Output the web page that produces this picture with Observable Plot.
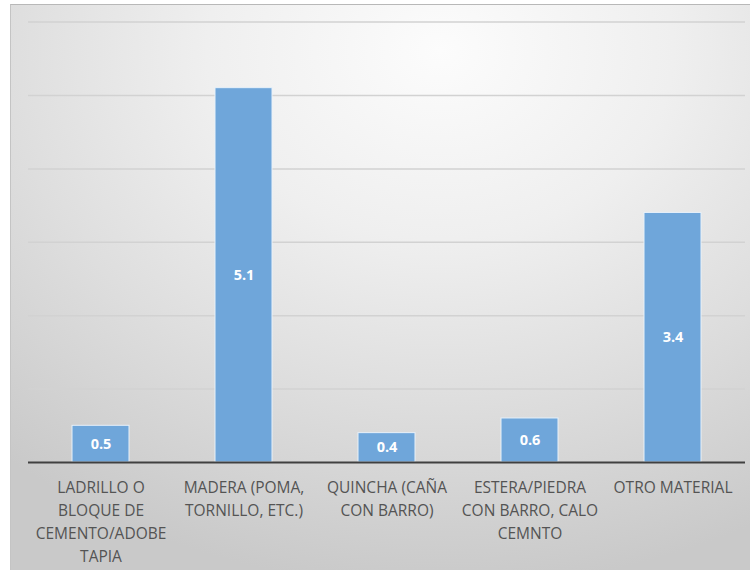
<!DOCTYPE html>
<html>
<head>
<meta charset="utf-8">
<script src="https://cdn.jsdelivr.net/npm/d3@7"></script>
<script src="https://cdn.jsdelivr.net/npm/@observablehq/plot@0.6"></script>
<style>
  html, body { margin: 0; padding: 0; background: #fff; }
  #wrap { position: absolute; left: 10px; top: 4px; width: 740px; height: 566px;
    border-top: 1px solid #b8b8b8; border-left: 1px solid #c4c4c4;
    background: radial-gradient(ellipse 90% 95% at 58% 8%, #fcfcfc 0%, #efefef 35%, #dedede 65%, #c9c9c9 100%);
  }
  #wrap svg { position: absolute; left: -1px; top: -1px; background: transparent; }
</style>
</head>
<body>
<div id="wrap"></div>
<script>
const categories = [
  "LADRILLO O\nBLOQUE DE\nCEMENTO/ADOBE\nTAPIA",
  "MADERA (POMA,\nTORNILLO, ETC.)",
  "QUINCHA (CAÑA\nCON BARRO)",
  "ESTERA/PIEDRA\nCON BARRO, CALO\nCEMNTO",
  "OTRO MATERIAL"
];
const values = [0.5, 5.1, 0.4, 0.6, 3.4];
const valueLabels = ["0.5", "5.1", "0.4", "0.6", "3.4"];
const gridTicks = [1, 2, 3, 4, 5, 6];

const data = categories.map((c, i) => ({cat: c, v: values[i], label: valueLabels[i]}));

const chart = Plot.plot({
  width: 740,
  height: 566,
  marginLeft: 18,
  marginRight: 5,
  marginTop: 17.6,
  marginBottom: 108,
  style: {background: "transparent", fontFamily: "'Open Sans', sans-serif"},
  x: {domain: categories, paddingInner: 0.6, paddingOuter: 0.3, align: 0.5, axis: null},
  y: {domain: [0, 6], axis: null},
  marks: [
    Plot.gridY(gridTicks, {stroke: "#d2d2d2", strokeOpacity: 1, strokeWidth: 1.5}),
    Plot.barY(data, {x: "cat", y: "v", fill: "#6fa6da", stroke: "#e8f1fa", strokeWidth: 1}),
    Plot.text(data, {x: "cat", y: d => d.v / 2, text: "label", fill: "white", fontWeight: "bold", fontSize: 14.5}),
    Plot.ruleY([0], {stroke: "#404040", strokeWidth: 2}),
    Plot.axisX({tickSize: 0, tickPadding: 14, fontSize: 15.5, lineHeight: 1.48, fill: "#545454", label: null}),
  ]
});
document.getElementById("wrap").appendChild(chart);
</script>
</body>
</html>
